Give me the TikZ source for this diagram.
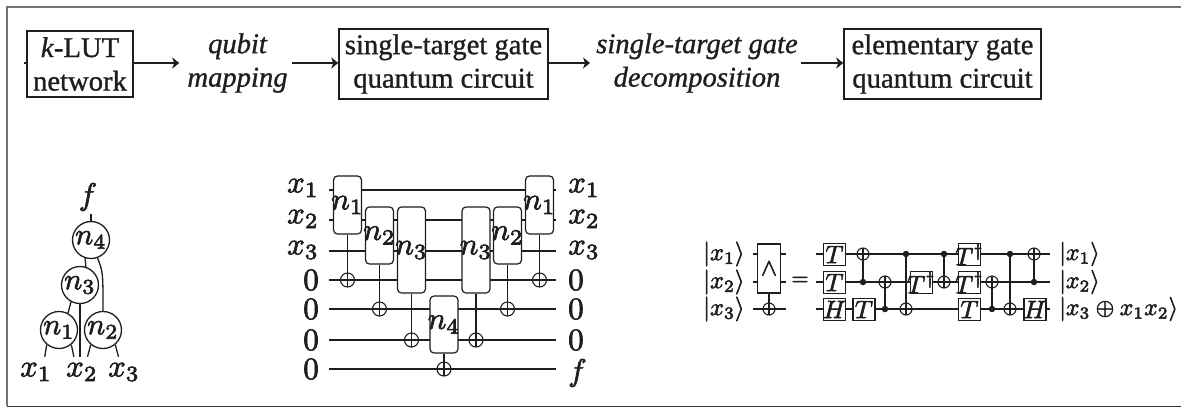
\documentclass[tikz,border=0pt]{standalone}
\usepackage{fontspec}
\setmainfont{Liberation Serif}[FakeBold=1.0]
\usetikzlibrary{arrows.meta,calc}
\definecolor{ink}{HTML}{1E1E1E}
\newcommand{\heavy}[1]{\special{pdf:code q 2 Tr 0.22 w}#1\special{pdf:code Q}}
\newcommand{\gl}[2]{\makebox[0pt]{\scalebox{#1}{\heavy{$#2$}}}}
\newcommand{\ml}[2]{\scalebox{#1}{\heavy{$#2$}}}
\tikzset{
  every node/.style={text=ink},
  line/.style={draw=ink,line width=1.3pt},
  thin line/.style={draw=ink,line width=1.1pt},
  flow/.style={line,line width=1.7pt,-{Stealth[length=7pt,width=11pt,inset=2pt]}},
  stage/.style={draw=ink,line width=1.5pt,fill=white,align=center,inner sep=0pt,
    font=\fontsize{28.6}{33.5}\selectfont},
  step label/.style={align=center,inner sep=0pt,font=\fontsize{28.6}{33.5}\selectfont\itshape},
  lut/.style={circle,draw=ink,line width=1.3pt,fill=white,minimum size=37pt,inner sep=0pt},
  leaf/.style={inner sep=6pt},
  gatebox/.style={rounded corners=4pt,draw=ink,line width=1.2pt,fill=white,inner sep=0pt,minimum width=28pt},
  qgate/.style={draw=ink,line width=1.5pt,fill=white,inner sep=0pt,minimum width=22pt,minimum height=22pt},
  targ/.style={circle,draw=ink,line width=1.1pt,inner sep=0pt,minimum size=#1,
    path picture={\draw[ink,line width=1.1pt]
      (path picture bounding box.north)--(path picture bounding box.south)
      (path picture bounding box.west)--(path picture bounding box.east);}},
  ctrl/.style={circle,fill=ink,inner sep=0pt,minimum size=6.5pt},
  wirelabel/.style={inner sep=0pt},
}
\begin{document}
\begin{tikzpicture}[x=1pt,y=-1pt]
\useasboundingbox (0,0) rectangle (1181,408);
\fill[white] (0,0) rectangle (1181,408);
% frame
\draw[draw=black!55,line width=2pt] (1181,7) -- (7,7) -- (7,406);
\draw[draw=black!80,line width=1.5pt] (7,406.5) -- (1181,406.5);

% top flow
\node[stage,minimum width=106pt,minimum height=66pt] (klut) at (80,64) {\textit{k}-LUT\\network};
\node[step label] (qm) at (237.5,63) {qubit\\mapping};
\node[stage,minimum width=209pt,minimum height=70pt] (stg) at (443.5,64) {single-target gate\\quantum circuit};
\node[step label] (dec) at (697,63) {single-target gate\\decomposition};
\node[stage,minimum width=197pt,minimum height=70pt] (elem) at (942.5,64) {elementary gate\\quantum circuit};
\coordinate (stub) at (24,63);
\draw[line,line width=2pt] (stub) -- (klut.west |- stub);
\draw[flow] (klut.east |- qm) -- ($(qm.west)+(-8,0)$);
\draw[flow] ($(qm.east)+(4,0)$) -- (stg.west |- qm);
\draw[flow] (stg.east |- dec) -- ($(dec.west)+(-6,0)$);
\draw[flow] ($(dec.east)+(3,0)$) -- (elem.west |- dec);

% tree
\node[lut] (n4) at (91,240) {\ml{3}{n_4}};
\node[lut] (n3) at (80,285) {\ml{3}{n_3}};
\node[lut] (n1) at (59,330) {\ml{3}{n_1}};
\node[lut] (n2) at (103,330) {\ml{3}{n_2}};
\node[inner sep=0pt] (f) at (88,197) {\ml{3.1}{f}};
\node[leaf] (lx1) at (36,372) {\ml{3.1}{x_1}};
\node[leaf] (lx2) at (82,372) {\ml{3.1}{x_2}};
\node[leaf] (lx3) at (124,372) {\ml{3.1}{x_3}};
\draw[line] (n4.north) -- ++(0,-7);
\draw[line] (n4.-108) -- (n3.72);
\draw[line] (n4.-70) .. controls (103,272) .. (n2.north);
\draw[line] (n3.-118) -- (n1.62);
\draw[line] (n3.south) -- (n3.south |- lx2.north);
\draw[line] (n1.-130) -- (lx1.60);
\draw[line] (n1.-50) -- (lx2.118);
\draw[line] (n2.-130) -- (lx2.70);
\draw[line] (n2.-50) -- (lx3.110);

% middle circuit: wires
\foreach \name/\y in {a/190,b/220,c/251,d/280,e/309,g/340,h/369}{
  \coordinate (w\name l) at (329,\y);
  \coordinate (w\name r) at (556,\y);
  \draw[line] (w\name l) -- (w\name r);
}
% middle circuit: gates
\node[gatebox,minimum height=58pt] (ga) at (347.5,205) {\gl{3.1}{n_1}};
\node[gatebox,minimum height=57pt] (gb) at (379.5,235.5) {\gl{3.1}{n_2}};
\node[gatebox,minimum height=86pt] (gc) at (411.5,250) {\gl{3.1}{n_3}};
\node[gatebox,minimum height=57pt] (gd) at (444,324.5) {\gl{3.1}{n_4}};
\node[gatebox,minimum height=86pt] (ge) at (476,250) {\gl{3.1}{n_3}};
\node[gatebox,minimum height=57pt] (gf) at (507.5,235.5) {\gl{3.1}{n_2}};
\node[gatebox,minimum height=58pt] (gg) at (539.5,205) {\gl{3.1}{n_1}};
\node[targ=14pt] (ta) at (347.5,280) {};
\node[targ=14pt] (tb) at (379.5,309) {};
\node[targ=14pt] (tc) at (411.5,340) {};
\node[targ=14pt] (td) at (444,369) {};
\node[targ=14pt] (te) at (476,340) {};
\node[targ=14pt] (tf) at (507.5,309) {};
\node[targ=14pt] (tg) at (539.5,280) {};
\foreach \g/\t in {ga/ta,gb/tb,gc/tc,gd/td,ge/te,gf/tf,gg/tg}{
  \draw[line] (\g.south) -- (\t.center);
}
% middle circuit: labels
\foreach \n/\y/\t in {p1/188/x_1,p2/219/x_2,p3/250/x_3,p4/280/0,p5/309/0,p6/340/0,p7/369/0}{
  \node[wirelabel,anchor=east] (\n) at (319,\y) {\ml{3.1}{\t}};
}
\foreach \n/\y/\t in {q1/188/x_1,q2/219/x_2,q3/250/x_3,q4/280/0,q5/309/0,q6/340/0}{
  \node[wirelabel,anchor=west] (\n) at (568,\y) {\ml{3.1}{\t}};
}
\node[wirelabel,anchor=west] (q7) at (568,373) {\ml{3.1}{f}};

% right: Toffoli symbol
\node[wirelabel,anchor=west] (k1) at (703,254) {\ml{2.45}{|x_1\rangle}};
\node[wirelabel,anchor=west] (k2) at (703,282) {\ml{2.45}{|x_2\rangle}};
\node[wirelabel,anchor=west] (k3) at (703,309) {\ml{2.45}{|x_3\rangle}};
\coordinate (sl1) at (753,254); \coordinate (sr1) at (786,254);
\coordinate (sl2) at (753,282); \coordinate (sr2) at (786,282);
\coordinate (sl3) at (753,309); \coordinate (sr3) at (786,309);
\draw[thin line] (sl1) -- (sr1);
\draw[thin line] (sl2) -- (sr2);
\draw[thin line] (sl3) -- (sr3);
\node[draw=ink,line width=1.3pt,fill=white,inner sep=0pt,minimum width=23pt,minimum height=49pt] (and) at (769,268.5) {\ml{2.4}{\wedge}};
\node[targ=12pt] (andt) at (769,309) {};
\draw[thin line] (and.south) -- (andt.center);
\node[inner sep=0pt] (eq) at (800,281) {\ml{2.2}{=}};

% right: decomposition wires
\coordinate (r1l) at (816,254); \coordinate (r1r) at (1050,254);
\coordinate (r2l) at (816,282); \coordinate (r2r) at (1050,282);
\coordinate (r3l) at (816,309); \coordinate (r3r) at (1050,309);
\draw[thin line] (r1l) -- (r1r);
\draw[thin line] (r2l) -- (r2r);
\draw[thin line] (r3l) -- (r3r);
% gates
\node[qgate] (T1) at (834.5,254.5) {\gl{2.5}{T}};
\node[qgate] (T2) at (834.5,282.5) {\gl{2.5}{T}};
\node[qgate] (H1) at (834.5,309.5) {\gl{2.5}{H}};
\node[qgate] (T3) at (864,309.5) {\gl{2.5}{T}};
\node[qgate] (T4) at (921.5,282.5) {\gl{2.5}{T^{\dagger}}};
\node[qgate] (T5) at (969.5,254.5) {\gl{2.5}{T^{\dagger}}};
\node[qgate] (T6) at (969.5,282.5) {\gl{2.5}{T^{\dagger}}};
\node[qgate] (T7) at (969.5,309.5) {\gl{2.5}{T}};
\node[qgate] (H2) at (1035,309.5) {\gl{2.5}{H}};
% CNOTs
\foreach \n/\x/\ty/\cy in {1/863/254/282,2/885/282/309,3/906/309/254,4/944/282/254,5/992/282/309,6/1010/309/254,7/1034/254/282}{
  \node[targ=12pt] (xt\n) at (\x,\ty) {};
  \node[ctrl] (xc\n) at (\x,\cy) {};
  \draw[thin line] (xt\n.center) -- (xc\n.center);
}
% outputs
\node[wirelabel,anchor=west] (o1) at (1059,254) {\ml{2.4}{|x_1\rangle}};
\node[wirelabel,anchor=west] (o2) at (1059,282) {\ml{2.4}{|x_2\rangle}};
\node[wirelabel,anchor=west] (o3) at (1059,309) {\ml{2.4}{|x_3\oplus x_1x_2\rangle}};
\end{tikzpicture}
\end{document}
